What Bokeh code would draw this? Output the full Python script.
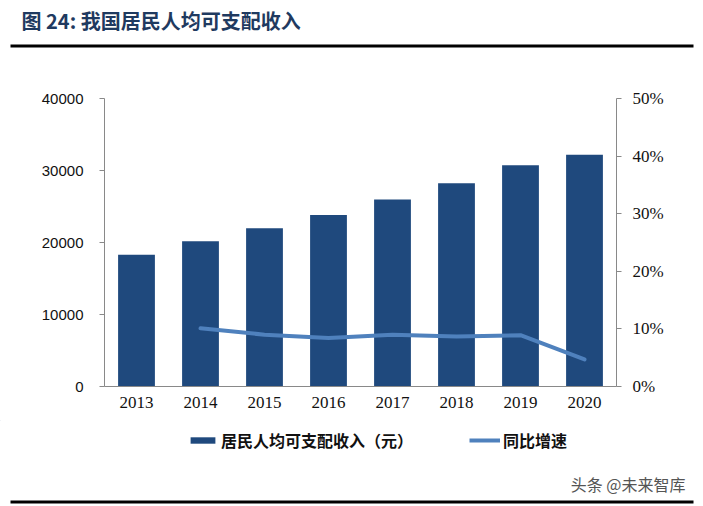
#!/usr/bin/env python3
"""Per-capita disposable income of residents (bars) with YoY growth (line)."""

from bokeh.embed import file_html
from bokeh.layouts import column
from bokeh.models import (BoxAnnotation, ColumnDataSource, FactorRange, Label,
                          Legend, LegendItem, LinearAxis, PrintfTickFormatter,
                          Range1d)
from bokeh.plotting import figure
from bokeh.resources import INLINE

# data
years = ["2013", "2014", "2015", "2016", "2017", "2018", "2019", "2020"]
income = [18311, 20167, 21966, 23821, 25974, 28228, 30733, 32189]
growth_years = ["2014", "2015", "2016", "2017", "2018", "2019", "2020"]
growth = [10.1, 9.0, 8.4, 9.0, 8.7, 8.9, 4.7]  # percent

left_ticks = [0, 10000, 20000, 30000, 40000]
right_ticks = [0, 10, 20, 30, 40, 50]

title_text = "图 24:  我国居民人均可支配收入"
bar_label = "居民人均可支配收入（元）"
line_label = "同比增速"
source_note = "头条 @未来智库"

BAR_COLOR = "#1F497D"
LINE_COLOR = "#4F81BD"
AXIS_COLOR = "#898989"
TITLE_COLOR = "#1F3A60"
CJK = "Noto Sans CJK SC"

W = 703
TOP_H, MAIN_H, BOT_H = 60, 360, 86


def blank(height, y0):
    """A plain strip whose data coords equal page pixels (y grows downward)."""
    f = figure(width=W, height=height, x_range=Range1d(0, W),
               y_range=Range1d(y0 + height, y0), x_axis_type=None,
               y_axis_type=None, output_backend="svg", toolbar_location=None,
               tools="", min_border=0, frame_align=False)
    f.outline_line_color = None
    f.xgrid.grid_line_color = None
    f.ygrid.grid_line_color = None
    return f


def rule(y_top, y_bot):
    return BoxAnnotation(left=10, right=693, top=y_top, bottom=y_bot,
                         fill_color="black", fill_alpha=1, line_color=None)


# ---- title strip
top = blank(TOP_H, 0)
top.add_layout(Label(x=21, y=20, text=title_text, text_font=CJK,
                     text_font_style="bold", text_font_size="20px",
                     text_color=TITLE_COLOR, text_baseline="middle"))
top.add_layout(rule(44, 47))

# ---- main chart
p = figure(
    x_range=FactorRange(factors=years),
    y_range=Range1d(0, 40000),
    width=W,
    height=MAIN_H,
    output_backend="svg",
    toolbar_location=None,
    tools="",
    min_border_left=104,
    min_border_right=87,
    min_border_top=38,
    min_border_bottom=34,
    frame_align=False,
)
p.extra_y_ranges = {"pct": Range1d(0, 50)}
p.outline_line_color = None
p.xgrid.grid_line_color = None
p.ygrid.grid_line_color = None

bar_src = ColumnDataSource(data=dict(year=years, income=income))
p.vbar(x="year", top="income", width=0.575, source=bar_src,
       fill_color=BAR_COLOR, line_color=None)

line_src = ColumnDataSource(data=dict(year=growth_years, growth=growth))
p.line(x="year", y="growth", source=line_src, y_range_name="pct",
       line_color=LINE_COLOR, line_width=4, line_join="round",
       line_cap="round")

p.yaxis.ticker = left_ticks
p.yaxis.axis_line_color = AXIS_COLOR
p.yaxis.major_tick_line_color = AXIS_COLOR
p.yaxis.major_tick_out = 5
p.yaxis.major_tick_in = 0
p.yaxis.minor_tick_line_color = None
p.yaxis.major_label_standoff = 16
p.yaxis.major_label_text_font = "Liberation Sans"
p.yaxis.major_label_text_font_size = "15px"
p.yaxis.major_label_text_color = "#111111"

p.xaxis.axis_line_color = AXIS_COLOR
p.xaxis.major_tick_line_color = None
p.xaxis.major_tick_out = 0
p.xaxis.major_label_standoff = 10
p.xaxis.major_label_text_font = "Liberation Serif"
p.xaxis.major_label_text_font_size = "17px"
p.xaxis.major_label_text_color = "#111111"

right = LinearAxis(y_range_name="pct", ticker=right_ticks,
                   formatter=PrintfTickFormatter(format="%d%%"))
right.axis_line_color = AXIS_COLOR
right.major_tick_line_color = AXIS_COLOR
right.major_tick_out = 5
right.major_tick_in = 0
right.minor_tick_line_color = None
right.major_label_standoff = 11
right.major_label_text_font = "Liberation Serif"
right.major_label_text_font_size = "17px"
right.major_label_text_color = "#111111"
p.add_layout(right, "right")

# ---- legend / source strip
bot = blank(BOT_H, MAIN_H + TOP_H)
# off-canvas stand-ins that only carry the legend swatches
key_bar = bot.vbar(x=[-100], top=[-100], width=1, fill_color=BAR_COLOR,
                   line_color=None)
key_line = bot.line(x=[-100, -90], y=[-100, -100], line_color=LINE_COLOR,
                    line_width=4)
legend = Legend(
    items=[LegendItem(label=bar_label, renderers=[key_bar]),
           LegendItem(label=line_label, renderers=[key_line])],
    orientation="horizontal",
    location=(187, 54),
    glyph_width=31,
    glyph_height=8,
    label_standoff=3,
    spacing=56,
    padding=0,
    margin=0,
    border_line_color=None,
    background_fill_alpha=0,
    label_text_font=CJK,
    label_text_font_style="bold",
    label_text_font_size="16px",
    label_text_color="#111111",
)
bot.add_layout(legend, "center")
bot.add_layout(Label(x=685, y=483, text=source_note, text_font=CJK,
                     text_font_size="16px", text_color="#555555",
                     text_align="right", text_baseline="middle"))
bot.add_layout(rule(500, 503))

layout = column(top, p, bot, spacing=0)
open("out.html", "w").write(file_html(layout, INLINE))
